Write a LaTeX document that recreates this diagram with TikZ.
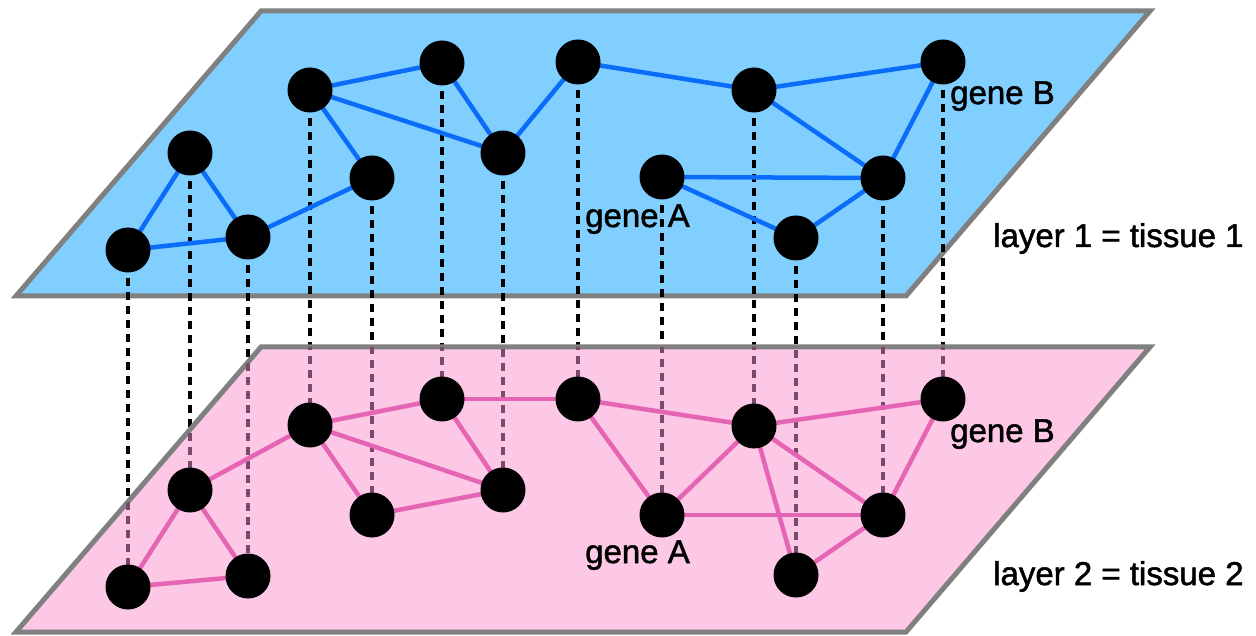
\documentclass[tikz,border=0pt]{standalone}
\usepackage{fontspec}
\setmainfont{Liberation Sans}
\newfontfamily\lblfont{Liberation Sans}[FakeBold=1.5]
\definecolor{planeblue}{RGB}{128,207,255}
\definecolor{planepink}{RGB}{253,200,229}
\definecolor{edgeblue}{RGB}{12,108,250}
\definecolor{edgepink}{RGB}{230,100,180}
\definecolor{planeborder}{RGB}{128,128,128}
\definecolor{dashpurple}{RGB}{122,74,106}
\begin{document}
\begin{tikzpicture}[x=1pt,y=-1pt,
 gnode/.style={circle,fill=black,minimum size=45pt,inner sep=0pt},
 planeline/.style={draw=planeborder,line width=5pt,line join=miter},
 bedge/.style={edgeblue,line width=4.5pt},
 pedge/.style={edgepink,line width=4.5pt},
 link/.style={line width=3.5pt,dash pattern=on 8pt off 6pt},
 lbl/.style={font=\lblfont\fontsize{33}{38}\selectfont,inner sep=0pt,anchor=base west}]
\useasboundingbox (0,0) rectangle (1256,636);
% positions
\foreach \n/\x/\y in {1/190/153,2/128/250,3/248/237,4/310/90,5/372/178,6/442/63,7/503/153,8/578/62,9/662/177,10/754/90,11/796/238,12/883/178,13/943/62}
  \coordinate (T\n) at (\x,\y);
\foreach \n/\x/\y in {1/190/490,2/128/587,3/248/576,4/310/425,5/372/515,6/442/399,7/503/490,8/578/399,9/662/515,10/754/426,11/796/575,12/883/515,13/943/399}
  \coordinate (B\n) at (\x,\y);
% top plane
\path[fill=planeblue,planeline] (16,296) -- (261,11) -- (1150,11) -- (906,296) -- cycle;
% inter-layer links
\foreach \n in {1,...,13} \draw[link,black] (T\n) -- (B\n);
% top edges
\foreach \a/\b in {1/2,1/3,2/3,3/5,4/5,4/6,4/7,6/7,7/8,8/10,10/12,10/13,13/12,9/12,9/11,11/12}
  \draw[bedge] (T\a) -- (T\b);
\foreach \n in {1,...,13} \node[gnode] (t\n) at (T\n) {};
% bottom plane
\path[fill=planepink,planeline] (16,632) -- (261,347) -- (1150,347) -- (906,632) -- cycle;
\begin{scope}
\clip (16,632) -- (261,347) -- (1150,347) -- (906,632) -- cycle;
\foreach \n in {1,...,13} \draw[link,dashpurple] (T\n) -- (B\n);
\end{scope}
% bottom edges
\foreach \a/\b in {2/1,1/3,2/3,1/4,4/6,4/5,4/7,5/7,6/7,6/8,8/9,8/10,10/13,10/9,10/11,10/12,9/12,11/12,13/12}
  \draw[pedge] (B\a) -- (B\b);
\foreach \n in {1,...,13} \node[gnode] (b\n) at (B\n) {};
% labels
\node[lbl] (ga1) at (585,227) {gene A};
\node[lbl] (gb1) at (950,104) {gene B};
\node[lbl] (l1) at (993,247) {layer 1 = tissue 1};
\node[lbl] (ga2) at (585,563) {gene A};
\node[lbl] (gb2) at (950,442) {gene B};
\node[lbl] (l2) at (993,585) {layer 2 = tissue 2};
\end{tikzpicture}
\end{document}
